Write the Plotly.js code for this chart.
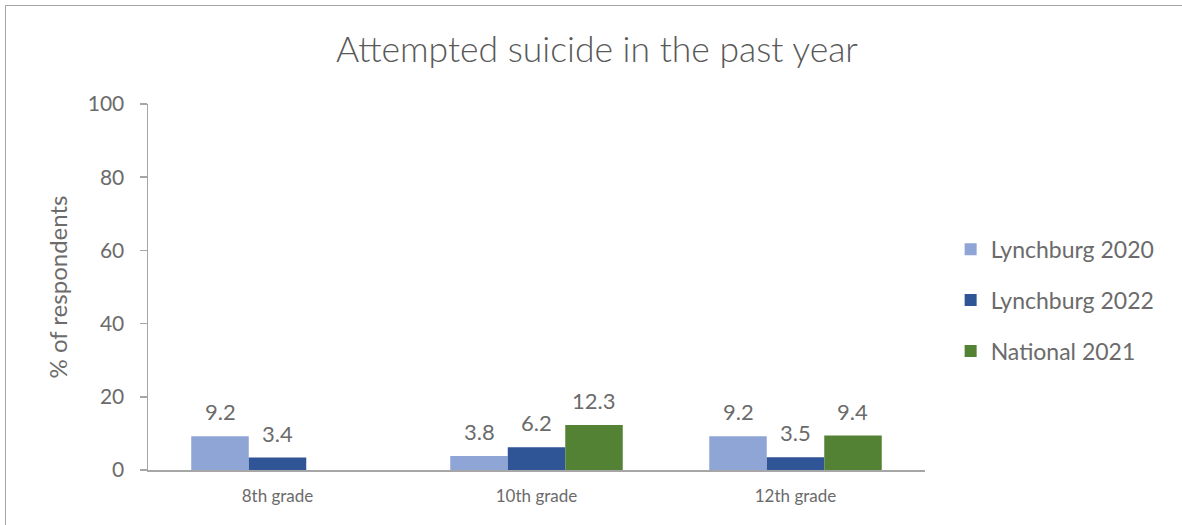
<!DOCTYPE html>
<html>
<head>
<meta charset="utf-8">
<script src="https://cdn.plot.ly/plotly-3.0.1.min.js"></script>
<style>
html,body{margin:0;padding:0;background:#fff;}
#frame{position:absolute;left:5px;top:5px;width:1177px;height:520px;border-left:1.5px solid #a6a6a6;border-top:1.5px solid #a6a6a6;box-sizing:border-box;pointer-events:none;z-index:10;}
#chart{width:1182px;height:525px;}
</style>
</head>
<body>
<div id="frame"></div>
<div id="chart"></div>
<script>
const categories = ["8th grade", "10th grade", "12th grade"];
const seriesNames = ["Lynchburg 2020", "Lynchburg 2022", "National 2021"];
const lynchburg2020 = [9.2, 3.8, 9.2];
const lynchburg2022 = [3.4, 6.2, 3.5];
const national2021 = [null, 12.3, 9.4];
const colors = ["#8FA5D6", "#2F5597", "#548235"];
const yTicks = [0, 20, 40, 60, 80, 100];

const values = [lynchburg2020, lynchburg2022, national2021];
const FONT = "Lato, 'Open Sans', sans-serif";
const W = 1182, H = 525;
const margin = {l: 148, r: 257, t: 104, b: 55};
const bargap = 0.334;

const traces = values.map((v, i) => ({
  type: "bar",
  name: seriesNames[i],
  x: categories,
  y: v,
  marker: {color: colors[i]},
  legendgroup: "g" + i,
  hoverinfo: "x+y+name"
}));

// data labels above bars, offset per series within the group
const plotW = W - margin.l - margin.r;
const barW = plotW / categories.length * (1 - bargap) / values.length;
const annotations = [];
values.forEach((v, i) => {
  v.forEach((d, j) => {
    if (d === null) return;
    annotations.push({
      x: categories[j], y: d, xref: "x", yref: "y",
      text: d.toFixed(1), showarrow: false,
      xanchor: "center", yanchor: "bottom",
      xshift: (i - (values.length - 1) / 2) * barW,
      yshift: 9,
      font: {family: FONT, size: 22, color: "#6b6b6b"}
    });
  });
});

const layout = {
  width: W, height: H,
  margin: margin,
  paper_bgcolor: "#ffffff",
  plot_bgcolor: "#ffffff",
  font: {family: FONT, color: "#595959"},
  title: {text: "Attempted suicide in the past year", font: {family: FONT, size: 35.5, color: "#595959", weight: 300}, x: 0.505, xanchor: "center", y: 0.905, yanchor: "middle"},
  barmode: "group",
  bargap: bargap,
  bargroupgap: 0,
  xaxis: {
    type: "category",
    showline: true, linecolor: "#a6a6a6", linewidth: 1.5,
    ticks: "", showgrid: false,
    tickfont: {family: FONT, size: 17, color: "#6b6b6b"},
    ticklabelstandoff: 10
  },
  yaxis: {
    range: [0, 100],
    tickvals: yTicks,
    showline: true, linecolor: "#a6a6a6", linewidth: 1.5,
    ticks: "outside", ticklen: 7, tickcolor: "#a6a6a6", tickwidth: 1.5,
    showgrid: false, zeroline: false,
    tickfont: {family: FONT, size: 21, color: "#6b6b6b"},
    ticklabelstandoff: 11,
    title: {text: "% of respondents", font: {family: FONT, size: 24, color: "#6b6b6b"}, standoff: 13}
  },
  legend: {
    x: 1.033, xanchor: "left",
    y: 0.464, yanchor: "middle",
    font: {family: FONT, size: 23, color: "#6b6b6b"},
    traceorder: "grouped",
    tracegroupgap: 18,
    itemwidth: 30
  },
  annotations: annotations,
  showlegend: true
};

Plotly.newPlot("chart", traces, layout, {displayModeBar: false, staticPlot: true});
</script>
</body>
</html>
